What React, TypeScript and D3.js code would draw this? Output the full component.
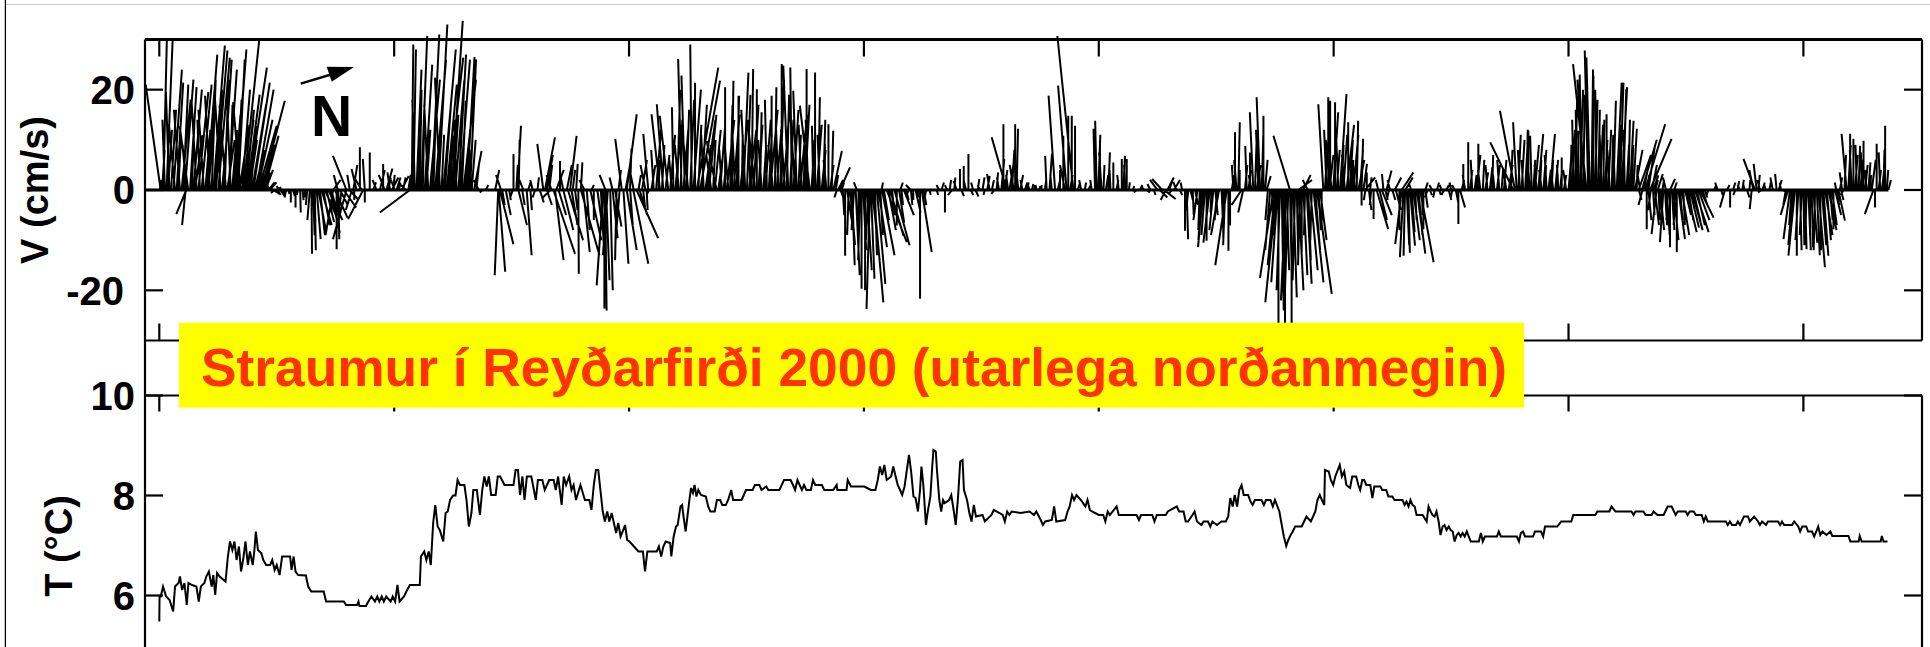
import React from 'react';
import * as d3 from 'd3';

// ---------- labels / ticks ----------
const TITLE = 'Straumur í Reyðarfirði 2000 (utarlega norðanmegin)';
const V_LABEL = 'V (cm/s)';
const T_LABEL = 'T (°C)';
const X_TICKS = [0, 10, 20, 30, 40, 50, 60, 70]; // days
const V_TICKS = [-20, 0, 20];
const T_TICKS = [6, 8, 10];

// ---------- current sticks: [day, u (cm/s, along plot x), v (cm/s)] ----------
const currentSticks: [number, number, number][] = [
  // cluster 1
  [0.02,0.3,2],[0.06,-3.0,21],[0.12,0.5,8],[0.17,0.7,29.7],[0.24,-0.5,14],[0.31,1.2,29.7],[0.37,0.8,12],[0.43,-0.7,19.5],[0.5,1.0,16],[0.6,1.7,24],[0.67,-1.2,13],[0.74,1.3,21.4],[0.81,0.5,10],[0.88,-1.2,16],[0.95,1.8,18],[1.02,1.0,21],[1.09,1.7,22],[1.16,-0.8,9],[1.23,-1.7,12.8],[1.31,1.3,20.5],[1.38,0.6,15],[1.45,1.7,20],[1.52,1.5,11],[1.59,-1.0,17.5],[1.66,2.0,19.5],[1.73,-0.5,14],[1.8,2.0,21],[1.9,-1.1,16],[1.96,1.0,12],[2.02,2.1,27],[2.09,1.4,17],[2.16,-1.0,18.8],[2.23,0.8,22],[2.3,2.3,28.8],[2.36,1.0,14],[2.41,2.3,27.8],[2.51,2.3,26.4],[2.56,0.5,20],[2.61,-1.1,18],[2.67,1.2,13],[2.72,1.7,26],[2.78,0.8,22],[2.84,-1.3,16.8],[2.89,1.5,10],[2.94,1.7,24],[2.99,0.6,17],[3.04,-0.8,19.5],[3.1,1.0,12],[3.15,2.1,21],[3.2,1.2,15],[3.26,2.1,28],[3.31,0.9,18],[3.36,1.3,26],[3.41,2.0,13],[3.46,-1.5,17.5],[3.52,1.6,20],[3.58,3.2,30.3],[3.63,1.8,14],[3.69,1.6,16],[3.74,2.5,19],[3.79,3.7,24.4],[3.84,1.5,10],[3.89,1.2,12.8],[3.95,2.8,17],[4.0,3.3,21.4],[4.06,2.0,8],[4.12,3.5,20],[4.18,3.0,14],[4.23,3.6,12.8],[4.29,2.0,6],[4.34,4.7,17.8],[4.4,2.5,9],[4.46,2.9,10.8],[4.52,1.5,4],[4.57,0.7,3.5],[4.65,1.2,1.5],[4.71,1.3,1.5],
  [1.15,-2.0,-4.8],[1.12,-0.7,-7.0],
  [4.8,-1.0,0.8],[4.86,1.2,-0.8],[4.92,-0.8,-0.6],[4.98,1.0,0.5],[5.04,0.6,-1.0],[5.1,-0.5,0.8],[5.16,0.8,-1.2],[5.22,0.4,-0.5],
  // first negative group
  [5.3,0.2,-1.0],[5.4,-0.3,-1.5],[5.5,0.2,-0.8],[5.6,0.0,-2.5],[5.7,0.3,-1.2],[5.8,0.0,-3.5],[5.9,-0.2,-1.0],[6.0,0.1,-4.5],[6.1,0.2,-2.0],[6.2,0.0,-1.5],[6.3,-0.3,-3.0],[6.41,-0.5,-6],[6.48,0.1,-12.7],[6.55,0.3,-9],[6.62,0.2,-12],[6.7,0.8,-9.8],[6.77,1.5,-8],[6.84,1.0,-9],[6.91,2.0,-7],[6.98,1.3,-7],[7.05,2.2,-5],[7.12,1.5,-6.4],[7.2,2.8,-6],[7.26,2.0,-8.5],[7.33,1.0,-4],[7.40,-1.5,-9],[7.48,2.5,-5.5],[7.55,0.0,-11.8],[7.62,0.2,-9.8],[7.7,1.5,-3],[7.76,-0.6,-5],[7.85,2.5,-3.5],[7.97,-2.7,-9.8],[8.1,1.8,-2],[8.2,-1.2,-4],[8.3,0.0,-2],[8.68,-3.0,-5.8],[8.75,0.0,-2.5],
  [7.4,1.5,2],[7.6,-0.8,3],[7.97,-2.7,6.8],[8.11,-0.5,3],[8.26,0.8,5],[8.4,-1.0,4.2],[8.54,0.0,8.5],[8.62,-1.5,2.5],[8.75,-0.4,6.2],[8.96,0.0,7.5],[9.1,0.6,1.5],[9.25,-0.8,2],[9.39,1.0,4],[9.53,0.0,5.2],[9.6,-1.2,3],[9.67,1.2,4.3],[9.75,0.5,2.5],[9.82,-0.5,3.5],[9.9,1.3,2.5],[9.96,0.3,3],[10.03,-0.8,2],[10.1,0.8,2.5],[10.2,0.3,1.5],[10.3,1.5,2.8],[10.38,0.5,2.5],[10.5,-1.0,1],[10.67,-6.0,-4.5],
  // cluster 2
  [10.6,0.5,3],[10.68,0.8,8],[10.75,0.3,29],[10.82,0.5,28],[10.88,-0.5,18],[10.95,1.0,24],[11.0,0.7,14],[11.08,0.4,20],[11.15,1.2,30.7],[11.22,0.3,16],[11.3,1.5,25],[11.37,0.8,12],[11.45,-0.8,17],[11.52,2.0,22],[11.6,1.5,31],[11.67,0.6,19],[11.74,2.2,26],[11.8,1.0,14],[11.88,1.8,33],[11.95,-1.0,22.4],[12.02,0.5,11],[12.09,2.5,28],[12.16,1.2,17],[12.24,2.0,21],[12.3,3.0,26.4],[12.38,0.5,10.8],[12.45,2.2,33.7],[12.52,1.0,15],[12.6,1.8,21.8],[12.66,-0.5,14],[12.74,1.5,27],[12.8,2.0,26],[12.88,0.8,17.8],[12.95,2.5,22],[13.02,1.0,12],[13.1,1.5,26.5],[13.16,0.6,8],[13.23,1.2,26],[13.3,0.8,10],[13.4,1.5,7.8],[13.5,0.5,5],[13.6,-1.0,2],[13.75,-0.5,-0.5],[13.9,0.5,1],
  // mixed period
  [14.43,-0.7,-17],[14.45,1.3,-16.3],[14.5,2.7,-10.8],[14.6,0.5,-3],[14.75,1.0,-5],[14.9,0.3,-2],[15.05,-0.5,-1.5],[15.29,1.7,-7],[15.45,0.5,-3],[15.64,1.0,-13],[15.8,0.3,-4],[16.0,-0.5,-1.5],[16.2,0.8,-2.5],[16.5,1.0,-3],[16.65,-1.5,-1.5],[16.78,4.3,-12.7],[16.85,1.7,-14],[17.0,1.5,-5],[17.2,2.0,-8],[17.4,3.0,-10],[17.55,1.2,-7],[17.7,0.5,-4],[17.84,0.1,-16.7],[17.95,3.7,-13],[18.05,1.3,-12.4],[18.2,0.6,-8],[18.35,2.2,-10],[18.5,0.0,-6],[18.65,1.5,-11],[18.8,0.8,-15],[18.9,-1.3,-19],[18.95,0.0,-23.6],[18.98,0.3,-24],[19.02,0.7,-18],[19.1,-1.0,-13],[19.2,0.5,-20],[19.3,1.0,-9.6],[19.4,1.3,-7.3],[19.47,-0.3,-14],[19.6,-0.8,-10],[19.76,1.0,-14.7],[19.9,2.0,-12],[20.05,0.5,-7],[20.18,3.0,-14.7],[20.32,4.3,-9.6],[20.45,1.5,-5],[20.6,0.4,-3.5],[20.75,0.2,-4],[20.85,-0.5,-1],
  [14.3,0.8,4],[14.55,-1.0,3],[15.08,0.0,7.2],[15.2,0.3,5],[15.25,0.7,12.8],[15.3,0.2,10],[15.5,-0.8,2],[15.7,0.5,1.5],[15.9,-0.5,2],[16.1,0.3,2.5],[16.35,-1.2,9.2],[16.42,2.0,10.5],[16.5,1.2,7],[16.6,0.6,5],[16.7,-1.0,3],[16.9,1.5,4],[17.06,0.0,5.8],[17.2,-0.6,3],[17.35,1.0,5],[17.49,1.3,10.8],[17.6,0.5,4],[17.75,0.3,5.2],[17.95,0.3,5.5],[18.1,-1.0,2],[18.4,0.5,1],[19.0,-1.2,3],[19.3,-0.6,2.5],[19.55,0.5,4],[19.69,-1.3,10.2],[19.85,1.0,5.5],[19.9,2.0,15.1],[20.04,0.3,8.2],[20.2,-0.8,4],[20.4,0.5,3],[20.55,1.0,6],[20.7,-1.0,5],[20.82,-1.0,11.2],
  // cluster 3
  [20.95,0.8,5],[21.05,-0.5,8],[21.15,1.0,12],[21.25,0.3,6],[21.32,-1.7,15.1],[21.4,0.5,9],[21.46,-1.3,17.1],[21.55,0.8,7],[21.67,-1.7,14.8],[21.75,1.0,11],[21.82,-0.5,6],[21.89,-0.3,16.5],[21.97,1.2,13],[22.05,0.6,20],[22.12,-0.8,9],[22.2,0.3,14],[22.24,-0.7,26.1],[22.31,1.0,12],[22.38,-0.7,22.8],[22.45,0.5,16],[22.52,-1.0,10],[22.6,0.8,18],[22.67,-0.3,29],[22.74,1.5,20],[22.81,0.0,21.4],[22.88,4.3,24.4],[22.95,0.6,13],[23.02,4.0,21.8],[23.1,1.0,17],[23.18,-0.5,11],[23.25,2.0,14],[23.33,0.7,9],[23.4,1.5,15],[23.5,-1.0,7],[23.58,0.5,10],[23.65,1.2,12],[23.73,-2.0,9.8],[23.8,0.8,6],[23.88,1.0,13],[23.95,-0.5,8],[24.02,0.5,4.8],[24.09,0.0,20.5],[24.16,1.5,14],[24.23,-0.8,10],[24.3,0.5,17],[24.38,0.3,21.8],[24.45,1.2,15],[24.52,-0.6,12],[24.58,0.5,18.8],[24.66,0.0,18.8],[24.73,1.6,14],[24.8,0.2,11],[24.87,1.0,23.4],[24.95,-0.8,16],[25.02,0.7,19],[25.1,1.5,12],[25.16,-0.3,14],[25.22,0.3,24.1],[25.3,1.0,17],[25.37,-1.2,11],[25.44,0.0,20.1],[25.51,0.8,13],[25.58,0.3,15.5],[25.65,-0.7,10],[25.72,0.5,8],[25.8,1.1,14],[25.87,-0.4,18],[25.95,0.6,11],[26.01,1.5,16],[26.07,0.0,18.8],[26.14,-1.0,9],[26.21,0.3,20.5],[26.28,1.2,15],[26.36,-0.5,13],[26.43,0.8,22],[26.5,0.0,25.1],[26.57,1.3,17],[26.64,-0.8,12],[26.71,0.5,19],[26.78,-1.0,24.8],[26.85,0.7,14],[26.93,-0.3,24.4],[27.0,1.0,16],[27.07,-1.2,19],[27.14,-0.7,19.8],[27.21,0.5,11],[27.28,1.4,15],[27.35,-0.6,13],[27.42,0.4,9],[27.49,0.9,17],[27.56,0.0,24.1],[27.63,-0.5,14],[27.7,-2.0,16.8],[27.77,0.6,10],[27.85,-0.3,12.8],[27.92,0.0,23.4],[27.99,1.0,13],[28.06,0.3,18.5],[28.13,-0.5,11],[28.2,0.8,8],[28.27,0.4,14],[28.34,0.0,9.2],[28.41,-0.6,6],[28.49,0.0,13.1],[28.56,0.7,5],[28.63,0.3,11.8],[28.7,1.7,7.8],[28.8,0.5,3],[28.9,1.0,2],[28.98,2.0,4.5],
  // negative group around day 30
  [28.85,-0.5,-1.5],[29.0,1.0,-2.5],[29.1,0.3,-5],[29.2,0.0,-13.1],[29.28,1.0,-6.4],[29.35,-0.3,-9],[29.41,1.0,-11],[29.5,0.5,-15],[29.58,-0.5,-8],[29.65,0.8,-17],[29.77,0.0,-7.1],[29.84,-0.4,-14],[29.9,0.0,-19.7],[29.97,0.6,-12],[30.05,0.0,-20],[30.12,1.0,-16],[30.19,-0.5,-10],[30.26,-0.7,-23.7],[30.3,0.7,-17.7],[30.35,1.5,-14],[30.4,2.0,-22.4],[30.47,0.4,-13],[30.55,1.7,-18.7],[30.62,1.7,-11.4],[30.7,0.5,-9],[30.77,2.5,-13],[30.85,1.0,-6],[30.97,4.0,-10.4],[31.04,1.5,-8],[31.11,2.7,-9.1],[31.2,0.5,-5],[31.3,3.0,-11],[31.4,0.0,-7.1],[31.5,1.0,-6.5],[31.6,0.3,-3],[31.7,2.0,-5],[31.8,0.5,-2],[31.9,-0.5,-1.5],[32.0,0.3,-3],[32.1,0.0,-2],[32.2,1.0,-4.5],[32.3,0.0,-1.5],[32.39,0.0,-21.7],[32.46,2.0,-12.4],[32.55,0.5,-3],[32.65,-0.3,-1.5],[32.8,0.2,-1],
  [29.05,0.5,1.5],[29.7,-0.6,1.5],[30.75,0.3,1.5],[31.55,0.5,1.5],[32.0,-1,1],
  // quiet period
  [33.1,0.3,-1],[33.2,-0.5,1],[33.3,0.5,1.5],[33.45,0.0,-4.5],[33.55,-0.5,1],[33.65,0.3,2],[33.75,-0.8,-1],[33.85,0.2,2.5],[33.95,-0.6,1.8],[34.09,0.0,4.2],[34.15,0.5,-1.2],[34.25,0.0,4.8],[34.35,-0.5,2],[34.45,0.0,7.2],[34.55,0.5,-1],[34.65,-0.4,1.5],[34.75,0.6,-1.3],[34.85,0.3,2.2],[34.95,-0.5,1],[35.05,0.4,2.5],[35.15,-0.3,-1],[35.25,0.5,2.8],[35.35,-0.5,3.2],[35.45,0.4,2],[35.55,-0.6,-0.8],[35.65,0.3,3.5],[35.75,-0.4,2.5],[35.85,0.6,6.2],[35.94,0.0,13.1],[36.0,0.5,4],[36.08,-3.0,10.5],[36.14,-0.4,3],[36.2,1.0,6.5],[36.3,0.5,8],[36.38,-0.8,5],[36.44,0.0,13.1],[36.5,0.3,12.2],[36.58,-0.5,4],[36.65,0.6,3],[36.75,-0.4,2],[36.85,0.5,1.5],[36.95,0.3,1.5],[37.05,-0.3,1],[37.15,0.3,1.2],[37.25,0.2,1],[37.35,-0.2,1],[37.45,0.3,0.8],[37.55,0.1,1],
  [37.7,0.3,2],[37.78,-0.3,6.8],[37.9,0.5,7.2],[38.0,-0.3,3],[38.14,-1.3,18.8],[38.25,0.5,2],[38.35,0.0,4],[38.49,0.0,10.8],[38.56,-1.0,5],[38.63,-1.7,20.8],[38.7,0.0,14.8],[38.78,0.5,3],[38.85,0.0,14.8],[38.92,-3.2,30.7],[38.99,0.0,12.8],[39.1,0.5,1.5],[39.25,-0.4,2],[39.4,0.3,1.5],[39.55,0.5,1],[39.7,-0.3,2],[39.84,-0.3,12.2],[39.91,-0.3,13.8],[39.98,0.4,11],[40.05,0.0,9.8],[40.12,-0.5,7.5],[40.2,0.2,5],[40.3,0.5,3],[40.41,0.3,7.5],[40.5,-0.2,4],[40.62,0.0,5.5],[40.75,0.4,2],[40.85,-0.3,3],[40.98,0.0,6.2],[41.05,0.3,6.8],[41.12,-0.2,5],[41.19,0.0,6.2],[41.28,0.2,1.5],
  [41.45,0.3,0.8],[41.6,-0.5,-0.5],[41.75,0.5,1],[41.9,-0.3,0.8],[42.05,0.6,-0.5],[42.2,-0.6,1.2],[42.35,0.3,-1],[42.5,-1.5,2],[42.6,1.5,-1.5],[42.7,-2.0,2.2],[42.78,2.3,-1.8],[42.85,-1.0,-2],[42.92,1.3,2.5],[43.0,0.5,1.5],[43.1,-0.5,-0.8],[43.2,1.2,2],[43.3,-0.6,1.6],[43.45,0.5,-1],[43.55,-0.3,1.5],[43.67,0.0,-8.1],[43.74,0.3,-9.8],[43.82,-0.5,-4],[43.9,0.5,-2],[44.0,0.2,-5],[44.1,0.6,-3],[44.2,-0.8,-6],[44.3,-0.3,-8],[44.37,-0.6,-10],[44.44,-1.0,-11.4],[44.52,-0.7,-9],[44.59,0.0,-10.1],[44.66,-0.5,-7],[44.73,-1.3,-10.5],[44.8,-0.2,-4.5],[44.88,-0.8,-8],[44.96,0.5,-5],[45.04,-0.5,-6],[45.12,-1.6,-9],[45.23,0.3,-7.1],[45.3,0.0,-9.5],[45.38,-0.4,-11],[45.45,-2.3,-15],[45.52,0.0,-12.1],[45.59,0.0,-7.1],
  [45.66,0.5,3],[45.73,-0.3,5],[45.8,0.0,11.5],[45.87,-0.5,6],[45.94,0.3,13.5],[46.0,0.0,4],[46.08,-2.0,-3],[46.15,-1.0,-4.5],[46.22,0.5,5],[46.3,-0.3,8.8],[46.37,0.5,4],[46.44,0.0,7.5],[46.51,-0.6,3],[46.58,-0.7,15.5],[46.65,0.3,9],[46.72,0.8,5],[46.8,-0.5,12],[46.87,-0.7,18.5],[46.94,0.3,11],[47.01,0.0,14.8],[47.08,0.5,6],[47.15,0.8,2.8],[48.14,-3.3,10.8],
  // big negative group
  [47.2,-0.5,-6],[47.3,-1.0,-12],[47.37,0.3,-9],[47.44,-2.7,-17.5],[47.51,-1.5,-15],[47.58,-2.3,-22.4],[47.62,-1.3,-18.4],[47.65,0.0,-27.5],[47.72,-0.7,-20],[47.79,0.4,-24],[47.86,0.0,-19.7],[47.93,0.0,-28],[47.97,-1.0,-22],[48.0,0.5,-16],[48.07,-0.8,-24],[48.14,0.3,-14],[48.21,0.0,-27.5],[48.28,0.7,-21.4],[48.36,-0.5,-18],[48.43,0.3,-13.7],[48.5,1.0,-20],[48.57,-0.4,-15],[48.64,0.0,-12.4],[48.71,0.8,-17],[48.78,-0.2,-9],[48.85,1.0,-18.7],[48.92,0.5,-14],[49.0,1.5,-16],[49.07,-0.3,-10],[49.14,2.0,-18.4],[49.21,1.0,-12],[49.28,3.0,-20.7],[49.35,0.5,-8],[49.42,1.3,-10],[49.49,0.0,-7.8],
  [48.5,2.7,2],[48.7,1.5,3],[48.9,-1.0,2],
  [49.56,-1.0,17.1],[49.63,0.5,9],[49.7,-0.5,12],[49.77,0.0,18.5],[49.82,0.8,7],[49.85,0.0,17.8],[49.92,-1.2,10],[49.98,1.0,15.5],[50.06,0.0,17.5],[50.13,0.6,8],[50.2,-0.5,12],[50.27,1.3,19.1],[50.34,0.4,9],[50.41,0.8,11],[50.48,-0.6,7],[50.55,1.5,13],[50.62,0.0,13.5],[50.69,0.6,10],[50.77,0.3,6],[50.84,1.0,11],[50.91,-0.4,5],[50.98,0.3,13.8],[51.05,1.2,6],[51.12,0.6,8],[51.19,0.3,10.2],[51.27,0.7,5.2],[51.34,2.0,2.5],
  [51.19,0.0,-3.1],[51.35,-0.3,-2],[51.5,0.5,-4],[51.6,-0.3,-3],[51.7,0.0,-5.8],[51.83,2.3,-7.8],[51.95,1.5,-6],[52.05,2.0,-5],[52.2,0.5,-2],[52.35,-0.3,-1.5],[52.5,0.6,-2],[52.65,1.0,-4],[52.8,0.0,-8],[52.9,-1.3,-10.8],[52.97,-0.7,-13.4],[53.04,-0.3,-13.1],[53.11,0.5,-11],[53.18,0.3,-12.5],[53.25,1.0,-11.1],[53.32,0.6,-8.4],[53.39,1.3,-10],[53.47,0.3,-6],[53.54,1.7,-12.7],[53.61,0.8,-9],[53.68,2.7,-14.4],[53.75,0.2,-5],[53.82,0.0,-7.8],[53.9,0.5,-3.5],[54.0,-0.5,-1.5],[54.1,0.4,-1],[54.3,-0.3,-1.5],[54.5,0.3,-1],[54.7,-0.5,-1],[54.9,0.5,-2],[55.05,-0.3,-1.5],[55.2,0.5,-2.5],[55.31,0.0,-6.8],[55.38,1.0,-3.5],
  [51.41,0.0,3.5],[51.55,0.3,2.5],[51.9,-0.5,2],[52.12,-0.3,3.2],[52.25,1.0,3.9],[52.4,-0.5,2],[52.6,1.3,2.5],[52.9,2.3,3.5],[53.05,1.5,2.5],[53.3,-0.5,1.5],[53.9,0.5,1.5],[54.2,-0.6,1],[54.4,0.4,1.5],[54.6,-0.4,1],[54.8,0.5,1],[55.0,-0.3,1.5],[55.15,-0.5,1],
  // cluster around day 60
  [55.45,0.5,2],[55.52,0.0,5.2],[55.6,-0.5,3],[55.73,0.0,9.5],[55.8,0.5,4],[55.9,-0.3,6],[56.0,0.4,3],[56.08,0.8,7],[56.16,0.0,9.2],[56.25,-0.5,4],[56.35,0.3,6],[56.45,0.6,3.5],[56.55,-0.4,5],[56.65,0.5,4.5],[56.75,0.2,7],[56.85,-0.3,3],[56.95,0.6,5],[57.05,-0.4,6],[57.15,0.3,4],[57.25,0.5,6],[57.35,-0.5,3.5],[57.45,0.8,5],[57.55,0.3,8],[57.65,-4.6,9.5],[57.72,-3.0,15.8],[57.79,-0.7,13.5],[57.86,0.5,11],[57.93,-0.4,8],[58.0,0.6,10],[58.07,-0.3,6],[58.15,0.5,9],[58.22,0.2,12],[58.29,0.0,11.8],[58.36,-0.6,7],[58.43,-0.3,10.8],[58.5,0.4,6],[58.57,0.8,9],[58.64,-0.4,5],[58.71,1.0,11.2],[58.78,0.3,6],[58.86,-0.5,4],[58.93,0.6,8],[59.0,0.2,5],[59.07,-0.4,7],[59.14,0.5,4],[59.21,1.0,11.2],[59.28,0.3,6],[59.35,-0.5,4],[59.43,0.6,6],[59.5,0.2,3],[59.57,-0.3,5],[59.64,0.4,4],[59.71,0.0,6.5],[59.8,0.5,3],[59.9,-0.6,4],[60.0,0.5,6],[60.08,0.2,9],[60.15,0.6,12],[60.22,-0.3,14],[60.28,0.4,18],[60.35,-0.2,16],[60.42,0.0,11.8],[60.49,0.6,20],[60.56,-0.4,23],[60.63,0.3,19],[60.7,-1.5,22],[60.77,-2.7,25.1],[60.84,-0.7,27.8],[60.91,-0.7,26.4],[60.98,0.3,24],[61.06,0.0,22.8],[61.13,0.5,18],[61.2,-0.3,20],[61.27,0.3,16],[61.34,0.6,13],[61.41,-0.4,11],[61.48,0.2,14],[61.55,0.5,10],[61.62,0.0,15.1],[61.69,0.6,12],[61.76,-0.5,8],[61.84,0.3,11],[61.91,0.5,17.8],[61.98,-0.4,10],[62.05,1.0,21.4],[62.12,0.4,13],[62.19,0.7,21.4],[62.26,1.1,20.5],[62.33,0.6,20.1],[62.4,-0.3,12],[62.47,0.5,9],[62.55,0.3,14],[62.62,0.7,13.8],[62.69,0.3,9],[62.76,0.7,12.2],[62.83,1.5,8],[62.9,0.2,5],[62.98,2.5,7],[63.05,-0.5,3],[63.12,3.0,10],[63.2,1.0,5],[63.26,4.0,13.1],[63.33,0.5,3],[63.4,1.3,8.8],[63.47,4.3,10.2],[63.55,1.0,5],[63.61,1.0,2.9],[63.7,0.5,2],[63.8,1.0,3.2],[64.0,0.3,2],[64.15,-0.6,2.5],[64.32,1.0,2.2],[64.5,0.5,1.5],
  [63.0,0.5,-2],[63.15,-0.8,-3],[63.33,0.0,-7.8],[63.4,0.6,-6],[63.5,-0.5,-4],[63.6,0.3,-5],[63.68,0.8,-7],[63.75,-1.0,-8.8],[63.83,0.3,-6],[63.9,0.8,-8],[63.97,-0.5,-5],[64.04,-0.7,-10.4],[64.11,0.4,-7],[64.18,0.6,-9],[64.25,-0.4,-6],[64.32,0.0,-11.4],[64.4,0.5,-8],[64.47,1.0,-10],[64.54,-0.3,-7],[64.61,0.0,-12.4],[64.68,1.3,-9.8],[64.75,0.5,-6],[64.82,1.5,-9],[64.89,0.3,-7],[64.96,1.2,-5],[65.03,2.0,-8.4],[65.1,1.0,-6],[65.17,1.8,-7.5],[65.24,2.2,-8],[65.31,1.5,-6.5],[65.39,2.7,-8.4],[65.46,1.6,-7],[65.53,2.2,-6],[65.6,2.7,-5.5],[65.7,1.0,-3],[65.8,0.5,-1.5],[65.95,-0.3,-1],
  [66.2,0.4,1],[66.35,-0.5,1.5],[66.5,0.3,-1],[66.66,-1.0,-3.5],[66.75,0.5,1],[66.88,0.0,-3.5],[67.0,0.5,1.5],[67.1,-0.4,-1],[67.2,0.3,1.8],[67.3,-0.5,1],[67.4,0.3,2],[67.5,-0.3,1.2],[67.6,0.5,-1.5],[67.7,0.2,2],[67.8,-0.4,-3.8],[67.87,-0.8,4],[67.94,-2.3,6.2],[68.01,-0.6,5.2],[68.08,0.3,3],[68.15,-0.5,2],[68.2,-0.6,-0.5],[68.25,0.5,1.5],[68.4,-0.3,1],[68.55,0.3,1.5],[68.7,-0.5,2.5],[68.86,-0.3,3.2],[68.95,0.6,2],[69.05,-0.3,1.5],[69.15,0.5,-0.5],
  [69.25,-0.5,-3],[69.35,-1.5,-5],[69.43,-1.3,-9.8],[69.5,-0.5,-7],[69.57,-1.0,-11],[69.64,-1.3,-13.1],[69.72,0.0,-13.1],[69.79,-0.6,-10],[69.86,0.3,-12],[69.93,-0.4,-9],[70.0,0.2,-11],[70.07,0.3,-11.8],[70.14,-0.3,-10],[70.21,0.5,-12],[70.28,0.0,-9],[70.35,0.3,-11.4],[70.42,0.8,-10.5],[70.5,-0.3,-12],[70.57,0.6,-13],[70.64,1.3,-15.4],[70.71,0.2,-12],[70.78,0.9,-11],[70.85,1.0,-13.1],[70.92,1.5,-9],[71.0,0.8,-10],[71.07,1.6,-8],[71.14,0.5,-6],[71.21,1.0,-7],[71.28,0.0,-7.8],[71.35,1.2,-5],[71.42,0.5,-3],[71.49,1.3,-6.1],[71.6,0.5,-2],[71.7,-0.5,-1],
  [71.4,-0.3,1.5],[71.55,0.5,2.5],[71.65,-0.5,3.5],[71.75,0.3,7],[71.84,-1.0,11.2],[71.91,0.5,9],[71.99,0.0,11.2],[72.06,-0.4,8],[72.13,0.0,10.2],[72.2,0.5,7],[72.28,-0.3,9],[72.35,0.3,8.8],[72.42,0.6,6],[72.49,-0.2,7.5],[72.56,0.0,9.8],[72.63,0.5,5],[72.7,-0.4,4],[72.77,0.4,5.5],[72.84,0.2,3],[72.91,0.8,6],[72.98,-1.7,-4.8],[73.05,0.0,-3.5],[73.12,0.0,9.2],[73.2,0.5,4],[73.27,-0.3,7.5],[73.34,0.6,5],[73.41,0.2,8],[73.48,0.0,12.8],[73.55,0.3,4],[73.62,0.5,2],
];

// ---------- temperature: [day, °C] ----------
const temperature: [number, number][] = [
  [0.00,5.48],[0.01,5.98],[0.06,5.98],[0.16,6.18],[0.29,5.98],[0.44,5.91],[0.59,5.68],[0.67,6.18],[0.82,6.25],[0.88,6.38],[0.97,6.11],[1.07,6.25],[1.17,5.81],[1.24,6.25],[1.39,6.21],[1.58,6.18],[1.68,5.88],[1.77,6.18],[1.92,6.25],[2.0,6.38],[2.11,6.48],[2.23,6.18],[2.3,6.41],[2.38,6.01],[2.46,6.45],[2.57,6.38],[2.82,6.28],[2.92,6.78],[3.01,7.08],[3.11,6.91],[3.2,7.08],[3.29,6.71],[3.39,6.98],[3.48,6.48],[3.58,6.75],[3.67,7.08],[3.77,6.61],[3.86,6.88],[3.98,6.61],[4.05,6.91],[4.11,7.28],[4.2,6.91],[4.34,6.85],[4.43,6.71],[4.55,6.61],[4.72,6.61],[4.81,6.71],[4.91,6.51],[5.0,6.61],[5.12,6.41],[5.23,6.78],[5.38,6.78],[5.57,6.78],[5.63,6.51],[5.72,6.78],[5.8,6.48],[5.91,6.41],[6.24,6.40],[6.34,6.18],[6.47,6.08],[7.0,6.08],[7.1,5.88],[7.86,5.88],[7.95,5.81],[8.42,5.81],[8.48,5.88],[8.52,5.79],[8.8,5.79],[8.9,5.88],[9.03,5.98],[9.18,5.88],[9.28,5.98],[9.37,5.88],[9.47,5.98],[9.56,5.88],[9.66,5.98],[9.85,5.88],[9.94,5.98],[10.04,5.88],[10.14,6.21],[10.23,5.88],[10.42,5.98],[10.52,6.08],[10.67,6.21],[11.09,6.21],[11.14,6.78],[11.28,6.88],[11.37,6.71],[11.47,6.88],[11.56,6.61],[11.66,7.45],[11.75,7.81],[11.85,7.38],[11.94,7.31],[12.09,7.08],[12.19,7.65],[12.28,7.68],[12.38,7.91],[12.51,8.0],[12.61,8.0],[12.7,8.31],[12.8,8.21],[12.99,8.21],[13.08,7.91],[13.18,7.38],[13.29,7.65],[13.37,8.11],[13.52,8.11],[13.65,7.61],[13.75,8.11],[13.84,8.38],[13.94,8.18],[14.03,8.38],[14.13,8.01],[14.32,8.01],[14.41,8.38],[14.51,8.38],[14.7,8.21],[15.08,8.21],[15.17,8.51],[15.27,8.51],[15.36,8.01],[15.46,8.38],[15.55,7.91],[15.65,8.38],[15.84,8.38],[16.03,7.91],[16.12,8.31],[16.31,8.31],[16.41,8.11],[16.6,8.31],[16.79,8.31],[16.88,8.11],[16.98,8.38],[17.13,7.81],[17.22,8.38],[17.32,8.21],[17.45,8.38],[17.55,8.11],[17.64,8.21],[17.74,7.91],[17.93,8.21],[18.12,7.91],[18.31,7.91],[18.4,7.71],[18.5,8.21],[18.59,8.51],[18.69,8.51],[18.78,8.11],[18.88,7.68],[18.97,7.48],[19.07,7.68],[19.16,7.48],[19.26,7.65],[19.45,7.25],[19.54,7.45],[19.64,7.18],[19.73,7.28],[19.83,7.41],[19.92,7.11],[20.02,7.08],[20.21,6.98],[20.4,6.88],[20.59,6.88],[20.68,6.48],[20.78,6.88],
  [20.89,6.88],[21.18,6.88],[21.27,6.98],[21.37,6.78],[21.46,6.98],[21.56,7.08],[21.75,7.05],[21.8,6.78],[21.9,7.18],[22.0,7.38],[22.07,7.41],[22.19,7.78],[22.26,7.81],[22.32,7.58],[22.41,7.28],[22.57,7.91],[22.64,8.15],[22.72,8.05],[22.79,8.21],[22.87,7.98],[22.95,8.11],[23.06,8.01],[23.27,7.98],[23.37,7.78],[23.46,7.68],[23.65,7.68],[23.74,7.91],[23.88,7.91],[23.97,7.81],[24.12,7.81],[24.22,7.91],[24.35,8.11],[24.43,7.91],[24.79,7.91],[24.89,8.01],[24.98,8.11],[25.26,8.11],[25.36,8.21],[25.55,8.21],[25.64,8.11],[25.84,8.18],[25.93,8.11],[26.4,8.11],[26.5,8.21],[26.6,8.31],[26.88,8.31],[26.98,8.21],[27.07,8.11],[27.17,8.31],[27.36,8.11],[27.45,8.21],[27.55,8.11],[27.74,8.11],[27.83,8.31],[27.93,8.21],[28.21,8.21],[28.31,8.11],[28.69,8.11],[28.84,8.21],[28.87,8.11],[29.26,8.11],[29.31,8.31],[29.45,8.18],[30.02,8.18],[30.3,8.11],[30.49,8.11],[30.59,8.31],[30.68,8.58],[30.78,8.41],[30.87,8.61],[30.97,8.31],[31.16,8.38],[31.25,8.58],[31.35,8.38],[31.44,8.21],[31.54,8.11],[31.63,8.01],[31.73,8.18],[31.82,8.48],[31.92,8.81],[32.01,8.48],[32.11,7.98],[32.2,7.95],[32.3,7.68],[32.39,8.11],[32.45,8.58],[32.53,8.21],[32.64,7.41],[32.72,7.68],[32.83,7.98],[32.91,8.58],[32.96,8.91],[33.06,8.88],[33.11,8.51],[33.21,7.91],[33.29,7.68],[33.37,7.91],[33.44,7.85],[33.63,7.91],[33.72,8.01],[33.82,7.71],[33.91,7.41],[34.01,7.98],[34.1,8.68],[34.2,8.71],[34.26,8.11],[34.39,7.91],[34.49,7.65],[34.58,7.48],[34.68,7.81],[34.77,7.58],[35.05,7.61],[35.15,7.48],[35.43,7.61],[35.53,7.71],[35.91,7.61],[36.0,7.48],[36.1,7.68],[36.19,7.61],[36.29,7.68],[36.67,7.65],[37.05,7.68],[37.24,7.61],[37.34,7.68],[37.53,7.51],[37.62,7.41],[37.72,7.48],[38.0,7.51],[38.1,7.78],[38.19,7.48],[38.57,7.51],[38.67,7.68],[38.76,7.78],[38.86,8.01],[38.95,7.91],[39.05,8.01],[39.24,7.91],[39.43,7.78],[39.52,7.91],[39.62,7.71],[39.71,7.68],[40.0,7.61],[40.19,7.61],[40.28,7.48],[40.38,7.68],[40.47,7.61],[40.76,7.78],[40.85,7.61],[41.04,7.61],[41.61,7.61],[41.71,7.51],[41.8,7.61],[42.28,7.61],[42.37,7.48],[42.47,7.61],[42.85,7.61],[42.94,7.68],[43.32,7.78],[43.42,7.68],[43.61,7.68],[43.7,7.48],[43.8,7.48],[43.99,7.61],[44.08,7.68],[44.18,7.48],[44.37,7.41],[44.46,7.48],[44.65,7.48],[44.75,7.38],[44.84,7.48],[45.03,7.41],[45.22,7.48],[45.41,7.48],[45.51,7.58],[45.6,7.95],[45.7,7.78],[45.79,8.01],[45.89,7.78],[45.98,8.11],[46.08,8.21],[46.17,8.01],[46.36,8.01],[46.46,7.88],[46.55,7.81],[46.65,7.91],[46.93,7.91],[47.03,7.81],[47.12,7.91],[47.31,7.91],[47.41,7.78],[47.5,7.91],[47.69,7.68],[47.79,7.41],[47.88,7.18],[47.98,6.99],[48.07,7.11],[48.17,7.21],[48.26,7.28],[48.36,7.38],[48.64,7.38],[48.74,7.48],[48.84,7.58],[49.03,7.48],[49.22,7.68],[49.31,7.91],[49.41,8.01],[49.5,7.91],[49.6,7.81],[49.63,8.51],[49.79,8.48],[49.88,8.31],[49.98,8.21],[50.07,8.38],[50.26,8.61],[50.35,8.38],[50.45,8.48],[50.54,8.21],[50.7,8.15],
  [50.79,8.38],[50.96,8.38],[51.05,8.21],[51.13,8.11],[51.22,8.31],[51.3,8.31],[51.39,8.21],[51.56,8.21],[51.65,7.95],[51.73,8.18],[51.99,8.18],[52.07,8.11],[52.24,8.11],[52.33,7.98],[52.5,7.98],[52.59,7.91],[52.93,7.91],[53.02,7.81],[53.1,7.88],[53.19,7.78],[53.27,7.91],[53.36,7.81],[53.45,7.78],[53.53,7.61],[53.79,7.61],[53.96,7.48],[54.04,7.78],[54.13,7.68],[54.21,7.61],[54.3,7.58],[54.38,7.68],[54.47,7.48],[54.55,7.21],[54.64,7.38],[54.72,7.41],[54.81,7.31],[54.9,7.38],[54.98,7.31],[55.07,7.28],[55.15,7.08],[55.24,7.21],[55.32,7.25],[55.41,7.18],[55.49,7.25],[55.58,7.18],[55.67,7.28],[55.75,7.18],[55.84,7.08],[56.18,7.08],[56.27,7.25],[56.35,7.08],[56.44,7.18],[56.95,7.18],[57.03,7.28],[57.12,7.18],[57.8,7.18],[57.89,7.08],[57.97,7.25],[58.06,7.28],[58.15,7.18],[58.49,7.18],[58.57,7.28],[58.83,7.28],[58.92,7.18],[59.0,7.38],[59.52,7.38],[59.69,7.48],[60.12,7.48],[60.2,7.61],[61.14,7.61],[61.23,7.68],[61.74,7.68],[61.83,7.78],[62.0,7.68],[62.68,7.68],[62.77,7.61],[62.85,7.68],[63.19,7.68],[63.28,7.61],[63.54,7.61],[63.62,7.68],[63.79,7.61],[64.05,7.61],[64.22,7.78],[64.39,7.78],[64.56,7.61],[64.65,7.68],[64.99,7.68],[65.07,7.61],[65.16,7.68],[65.33,7.68],[65.42,7.61],[65.67,7.61],[65.76,7.48],[65.84,7.58],[65.93,7.48],[66.7,7.48],[66.78,7.41],[66.87,7.48],[66.96,7.41],[67.13,7.41],[67.21,7.48],[67.3,7.41],[67.47,7.58],[67.64,7.58],[67.72,7.48],[67.9,7.58],[68.07,7.48],[68.15,7.41],[68.24,7.48],[68.41,7.41],[68.49,7.48],[68.92,7.48],[69.01,7.41],[69.09,7.48],[69.18,7.41],[69.52,7.41],[69.61,7.48],[69.78,7.38],[69.86,7.28],[69.95,7.38],[70.12,7.38],[70.2,7.28],[70.37,7.28],[70.46,7.18],[70.55,7.28],[70.63,7.38],[70.72,7.21],[70.81,7.28],[70.98,7.21],[71.15,7.28],[71.23,7.19],[71.92,7.19],[72.0,7.08],[72.35,7.08],[72.4,7.19],[72.48,7.08],[73.29,7.08],[73.34,7.19],[73.41,7.08],[73.58,7.08],
];

const FONT = '"Liberation Sans", Arial, Helvetica, sans-serif';

export default function App() {
  const W = 1930;
  const H = 647;
  const L = 145, R = 1922;
  const x = d3.scaleLinear().domain([-0.609, 75.05]).range([L, R]);
  const yV = d3.scaleLinear().domain([-30, 30]).range([340.5, 39.5]);
  const yT = d3.scaleLinear().domain([4, 10]).range([695.5, 395.5]);
  const k = yV(0) - yV(1); // px per cm/s, same for both components
  const y0 = yV(0);

  const stickPath = currentSticks
    .map(([t, u, v]) => `M${x(t).toFixed(2)},${y0.toFixed(2)}L${(x(t) + u * k).toFixed(2)},${yV(v).toFixed(2)}`)
    .join('');
  const tempPath = d3.line<[number, number]>().x(d => x(d[0])).y(d => yT(d[1]))(temperature) || '';
  const lastDay = d3.max(currentSticks, d => d[0]) as number;

  const topV = yV(30), botV = yV(-30);
  const topT = yT(10);
  const tickLen = 18;
  const labelRight = (v: number) => (v < 0 ? 124 : 135);

  return (
    <svg width={W} height={H} style={{ position: 'absolute', left: 0, top: 0, background: '#fff' }}
      xmlns="http://www.w3.org/2000/svg">
      <rect x={0} y={0} width={W} height={H} fill="#fff" />
      {/* page edges */}
      <line x1={5} x2={W} y1={4.5} y2={4.5} stroke="#c8c8c8" strokeWidth={1.2} />
      <line x1={5.4} x2={5.4} y1={0} y2={H} stroke="#000" strokeWidth={1.3} />

      {/* ---------- top panel ---------- */}
      <path d={stickPath} stroke="#000" strokeWidth={2} fill="none" />
      <line x1={L} x2={x(lastDay)} y1={y0} y2={y0} stroke="#000" strokeWidth={2.8} />
      <g stroke="#000" strokeWidth={2.2} fill="none">
        <line x1={L} x2={R} y1={topV} y2={topV} strokeWidth={2.8} />
        <line x1={L} x2={R} y1={botV} y2={botV} />
        <line x1={R} x2={R} y1={topV} y2={botV} />
        <line x1={L} x2={L} y1={topV} y2={H} />
        {X_TICKS.map(t => (
          <g key={'vt' + t}>
            <line x1={x(t)} x2={x(t)} y1={topV} y2={topV + 17} />
            <line x1={x(t)} x2={x(t)} y1={botV} y2={botV - 17} />
            <line x1={x(t)} x2={x(t)} y1={topT} y2={topT + 16} />
          </g>
        ))}
        {V_TICKS.map(v => (
          <g key={'vy' + v}>
            <line x1={L} x2={L + tickLen} y1={yV(v)} y2={yV(v)} />
            <line x1={R} x2={R - tickLen} y1={yV(v)} y2={yV(v)} />
          </g>
        ))}
        {/* bottom panel frame */}
        <line x1={L} x2={R} y1={topT} y2={topT} />
        <line x1={R} x2={R} y1={topT} y2={H} />
        {T_TICKS.map(v => (
          <g key={'ty' + v}>
            <line x1={L} x2={L + tickLen} y1={yT(v)} y2={yT(v)} />
            <line x1={R} x2={R - tickLen} y1={yT(v)} y2={yT(v)} />
          </g>
        ))}
      </g>

      {/* north arrow */}
      <line x1={300.7} y1={83.7} x2={331} y2={74.5} stroke="#000" strokeWidth={2.4} />
      <polygon points="326.7,66.7 331.7,81.7 354,67" fill="#000" />
      <text x={331.5} y={136} textAnchor="middle" fontFamily={FONT} fontWeight="bold" fontSize={57}>N</text>

      {/* temperature */}
      <path d={tempPath} stroke="#000" strokeWidth={2} fill="none" strokeLinejoin="miter" />

      {/* axis labels */}
      <g fontFamily={FONT} fontWeight="bold" fontSize={40} fill="#000">
        {V_TICKS.map(v => (
          <text key={'vl' + v} x={labelRight(v)} y={yV(v) + 14.3} textAnchor="end">{String(v)}</text>
        ))}
        {T_TICKS.map(v => (
          <text key={'tl' + v} x={135} y={yT(v) + 14.3} textAnchor="end">{String(v)}</text>
        ))}
      </g>
      <g fontFamily={FONT} fontWeight="bold" fontSize={38} fill="#000">
        <text transform={`translate(48,${y0}) rotate(-90)`} textAnchor="middle">{V_LABEL}</text>
        <text transform={`translate(72,546) rotate(-90)`} textAnchor="middle">{T_LABEL}</text>
      </g>

      {/* title box */}
      <rect x={179} y={322.7} width={1345} height={85} fill="#ffff00" />
      <text x={201} y={386} fontFamily={FONT} fontWeight="bold" fontSize={54} fill="#ff3300"
        textLength={1306} lengthAdjust="spacingAndGlyphs">{TITLE}</text>
    </svg>
  );
}
